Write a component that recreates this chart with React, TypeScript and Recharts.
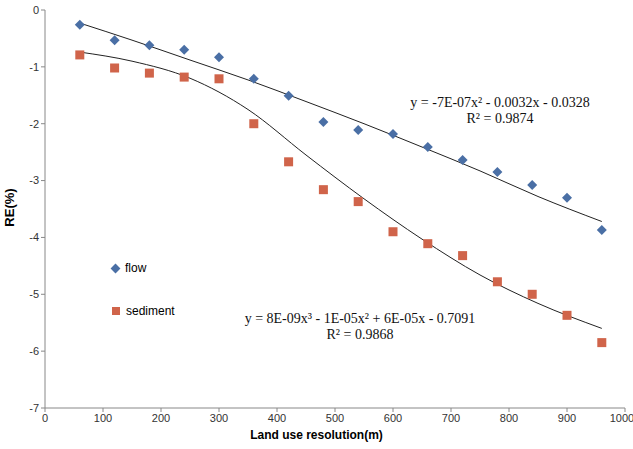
import { ComposedChart, Scatter, Line, XAxis, YAxis } from "recharts";

const flowX = [60, 120, 180, 240, 300, 360, 420, 480, 540, 600, 660, 720, 780, 840, 900, 960];
const flowY = [-0.26, -0.53, -0.62, -0.7, -0.83, -1.21, -1.51, -1.97, -2.11, -2.18, -2.41, -2.64, -2.85, -3.08, -3.3, -3.87];
const sedY = [-0.79, -1.02, -1.11, -1.18, -1.21, -2.0, -2.67, -3.16, -3.37, -3.9, -4.11, -4.32, -4.78, -5.0, -5.37, -5.85];

const fitX = [60, 150, 250, 350, 450, 550, 650, 750, 850, 960];
const flowFit = [-0.23, -0.53, -0.88, -1.23, -1.61, -2.0, -2.41, -2.83, -3.28, -3.72];
const sedFit = [-0.74, -0.9, -1.2, -1.75, -2.55, -3.32, -4.03, -4.66, -5.16, -5.6];

const xTicks = [0, 100, 200, 300, 400, 500, 600, 700, 800, 900, 1000];
const yTicks = [0, -1, -2, -3, -4, -5, -6, -7];

const flowData = flowX.map((x, i) => ({ x, y: flowY[i] }));
const sedData = flowX.map((x, i) => ({ x, y: sedY[i] }));
const flowFitData = fitX.map((x, i) => ({ x, y: flowFit[i] }));
const sedFitData = fitX.map((x, i) => ({ x, y: sedFit[i] }));

const tick = { fontSize: 11, fill: "#333", fontFamily: "Liberation Sans, Arial, sans-serif" };
const serif = { fontFamily: "Liberation Serif, Times New Roman, serif", fontSize: 14, color: "#111", position: "absolute" as const, textAlign: "center" as const };

function Diamond({ cx, cy }: any) {
  const r = 5;
  return <path d={`M${cx},${cy - r}L${cx + r},${cy}L${cx},${cy + r}L${cx - r},${cy}Z`} fill="#4a6fa5" />;
}
function Square({ cx, cy }: any) {
  return <rect x={cx - 4.5} y={cy - 4.5} width={9} height={9} fill="#d0644a" />;
}

export default function App() {
  return (
    <div style={{ position: "absolute", left: 0, top: 0, width: 633, height: 449, background: "#fff" }}>
      <ComposedChart width={633} height={449} margin={{ top: 10, right: 8, bottom: 16, left: 10 }}>
        <XAxis dataKey="x" type="number" domain={[0, 1000]} ticks={xTicks} tick={tick} stroke="#888" tickSize={4} height={25} allowDuplicatedCategory={false} />
        <YAxis dataKey="y" type="number" domain={[-7, 0]} ticks={yTicks} tick={tick} stroke="#888" tickSize={4} width={35} />
        <Line data={flowFitData} dataKey="y" type="monotone" stroke="#222" strokeWidth={1} dot={false} isAnimationActive={false} />
        <Line data={sedFitData} dataKey="y" type="monotone" stroke="#222" strokeWidth={1} dot={false} isAnimationActive={false} />
        <Scatter data={flowData} dataKey="y" shape={<Diamond />} isAnimationActive={false} />
        <Scatter data={sedData} dataKey="y" shape={<Square />} isAnimationActive={false} />
      </ComposedChart>
      <div style={{ position: "absolute", left: -10, top: 200, transform: "rotate(-90deg)", fontWeight: "bold", fontSize: 13, fontFamily: "Liberation Sans, Arial, sans-serif" }}>RE(%)</div>
      <div style={{ position: "absolute", left: 0, width: 633, top: 428, textAlign: "center", fontWeight: "bold", fontSize: 12, fontFamily: "Liberation Sans, Arial, sans-serif" }}>Land use resolution(m)</div>
      <div style={{ position: "absolute", left: 112, top: 261, fontSize: 12, fontFamily: "Liberation Sans, Arial, sans-serif" }}>
        <span style={{ display: "inline-block", width: 7, height: 7, background: "#4a6fa5", transform: "rotate(45deg)", marginRight: 6 }} />flow
      </div>
      <div style={{ position: "absolute", left: 112, top: 304, fontSize: 12, fontFamily: "Liberation Sans, Arial, sans-serif" }}>
        <span style={{ display: "inline-block", width: 8, height: 8, background: "#d0644a", marginRight: 6 }} />sediment
      </div>
      <div style={{ ...serif, left: 385, top: 95, width: 230 }}>y = -7E-07x² - 0.0032x - 0.0328<br />R² = 0.9874</div>
      <div style={{ ...serif, left: 215, top: 311, width: 290 }}>y = 8E-09x³ - 1E-05x² + 6E-05x - 0.7091<br />R² = 0.9868</div>
    </div>
  );
}
